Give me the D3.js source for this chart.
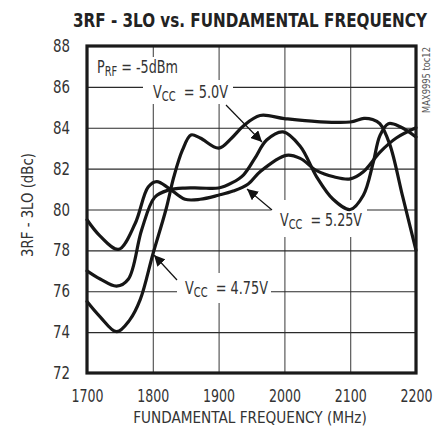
<!DOCTYPE html>
<html>
<head>
<meta charset="utf-8">
<script src="https://cdn.jsdelivr.net/npm/d3@7"></script>
<style>
  html, body { margin: 0; padding: 0; background: #fff; }
  svg { display: block; }
  text { font-family: "Liberation Sans Narrow", "DejaVu Sans Condensed", "Arial Narrow", sans-serif; }
</style>
</head>
<body>
<svg id="chart" width="443" height="434"></svg>
<script>
// ---- data ----
const xTicks = [1700, 1800, 1900, 2000, 2100, 2200];
const yTicks = [72, 74, 76, 78, 80, 82, 84, 86, 88];

// VCC = 5.25V (starts highest at 1700)
const freq525 = [1700, 1720, 1748, 1773, 1793, 1806, 1824, 1849, 1872, 1900, 1922, 1945, 1963, 2003, 2024, 2049, 2075, 2100, 2120, 2145, 2170, 2200];
const val525  = [79.5, 78.7, 78.05, 79.3, 81.1, 81.36, 81.05, 80.5, 80.5, 80.7, 80.9, 81.25, 81.85, 82.65, 82.5, 81.9, 81.6, 81.5, 81.85, 82.8, 83.5, 84.0];

// VCC = 5.0V
const freq50 = [1700, 1720, 1745, 1763, 1783, 1803, 1824, 1849, 1872, 1900, 1920, 1938, 1955, 1973, 1998, 2024, 2049, 2074, 2100, 2120, 2135, 2145, 2158, 2176, 2200];
const val50  = [77.0, 76.6, 76.25, 76.6, 79.0, 80.6, 80.95, 81.05, 81.05, 81.05, 81.3, 81.7, 82.5, 83.4, 83.8, 83.1, 81.6, 80.5, 80.0, 80.7, 82.3, 83.6, 84.2, 84.05, 83.55];

// VCC = 4.75V
const freq475 = [1700, 1720, 1745, 1765, 1781, 1800, 1820, 1832, 1845, 1858, 1872, 1900, 1920, 1938, 1963, 2000, 2050, 2100, 2121, 2134, 2145, 2160, 2180, 2200];
const val475  = [75.5, 74.75, 74.02, 74.6, 75.6, 77.8, 80.0, 81.6, 82.9, 83.65, 83.5, 83.0, 83.5, 84.1, 84.6, 84.45, 84.3, 84.28, 84.46, 84.4, 84.2, 83.2, 80.6, 78.0];

const seriesNames = ["VCC = 5.25V", "VCC = 5.0V", "VCC = 4.75V"];

// ---- layout ----
const L = 87, R = 416, T = 46, B = 373;
const svg = d3.select("#chart");
const x = d3.scaleLinear().domain([1700, 2200]).range([L, R]);
const y = d3.scaleLinear().domain([72, 88]).range([B, T]);

// gridlines + tick labels via axes
const gx = svg.append("g").attr("transform", `translate(0,${B})`)
  .call(d3.axisBottom(x).tickValues(xTicks).tickSize(-(B - T)).tickPadding(17).tickFormat(d3.format("d")));
const gy = svg.append("g").attr("transform", `translate(${L},0)`)
  .call(d3.axisLeft(y).tickValues(yTicks).tickSize(-(R - L)).tickPadding(17).tickFormat(d3.format("d")));
[gx, gy].forEach(g => {
  g.select(".domain").remove();
  g.selectAll(".tick text").attr("fill", "#333").attr("font-size", 17.5).attr("lengthAdjust", "spacingAndGlyphs");
});
gx.selectAll(".tick line").attr("stroke", "#4a4a4a").attr("stroke-width", 1.1);
gy.selectAll(".tick line").attr("stroke", "#2a2a2a").attr("stroke-width", 1.1);
gx.selectAll(".tick text").attr("textLength", 32);
gy.selectAll(".tick text").attr("textLength", 17);

// label backgrounds (mask gridlines)
const boxes = [
  [92, 57, 91, 23],   // PRF
  [143, 80, 90, 24],  // 5.0V
  [271, 200, 96, 37], // 5.25V
  [177, 273, 94, 30]  // 4.75V
];
svg.append("g").selectAll("rect").data(boxes).join("rect")
  .attr("x", d => d[0]).attr("y", d => d[1]).attr("width", d => d[2]).attr("height", d => d[3])
  .attr("fill", "#fff");

// curves
const line = d3.line().x(d => x(d[0])).y(d => y(d[1])).curve(d3.curveCatmullRom.alpha(0.5));
const series = [
  d3.zip(freq525, val525),
  d3.zip(freq50, val50),
  d3.zip(freq475, val475)
];
svg.append("g").selectAll("path").data(series).join("path")
  .attr("d", line).attr("fill", "none").attr("stroke", "#161616")
  .attr("stroke-width", 3.2).attr("stroke-linejoin", "round").attr("stroke-linecap", "round");

// frame
svg.append("rect").attr("x", L).attr("y", T).attr("width", R - L).attr("height", B - T)
  .attr("fill", "none").attr("stroke", "#1a1a1a").attr("stroke-width", 3.2);

// arrows
const defs = svg.append("defs");
defs.append("marker").attr("id", "ah").attr("viewBox", "0 0 10 10").attr("refX", 10).attr("refY", 5)
  .attr("markerWidth", 11).attr("markerHeight", 11).attr("markerUnits", "userSpaceOnUse").attr("orient", "auto")
  .append("path").attr("d", "M0,0 L10,5 L0,10 Z").attr("fill", "#111");
const arrows = [
  [226, 105, 262, 142],
  [272, 210, 247, 189],
  [177, 280, 154, 255]
];
svg.append("g").selectAll("line").data(arrows).join("line")
  .attr("x1", d => d[0]).attr("y1", d => d[1]).attr("x2", d => d[2]).attr("y2", d => d[3])
  .attr("stroke", "#111").attr("stroke-width", 1.2).attr("marker-end", "url(#ah)");

// fit a text horizontally to a target width using a scale transform
function fit(t, xp, yp, target, rot) {
  const w = t.node().getComputedTextLength();
  const s = target / w;
  t.attr("transform", `translate(${xp},${yp})${rot ? " rotate(-90)" : ""} scale(${s},1)`);
}

// labels
function subLabel(xp, yp, main, sub, rest, len) {
  const t = svg.append("text").attr("x", 0).attr("y", 0).attr("font-size", 17.5).attr("fill", "#333");
  t.append("tspan").text(main);
  t.append("tspan").attr("dy", 3).attr("font-size", 13.5).text(sub);
  t.append("tspan").attr("dy", -3).text(rest);
  fit(t, xp, yp, len);
}
subLabel(153, 98, "V", "CC", "\u00A0 = 5.0V", 75);
subLabel(280, 226, "V", "CC", "\u00A0 = 5.25V", 82);
subLabel(185, 294, "V", "CC", "\u00A0 = 4.75V", 83);
subLabel(97, 73, "P", "RF", " = -5dBm", 81);

// title
const title = svg.append("text").attr("text-anchor", "middle")
  .attr("font-size", 20).attr("font-weight", "bold").attr("fill", "#222")
  .text("3RF - 3LO vs. FUNDAMENTAL FREQUENCY");
fit(title, 250, 27, 354);

// axis titles
const xt = svg.append("text").attr("text-anchor", "middle")
  .attr("font-size", 16.5).attr("fill", "#333")
  .text("FUNDAMENTAL FREQUENCY (MHz)");
fit(xt, 250, 423, 234);
const yt = svg.append("text").attr("text-anchor", "middle")
  .attr("font-size", 16.5).attr("fill", "#333")
  .text("3RF - 3LO (dBc)");
fit(yt, 33, 205, 104, true);
const tag = svg.append("text").attr("text-anchor", "middle")
  .attr("font-size", 10).attr("fill", "#555")
  .text("MAX9995 toc12");
fit(tag, 430, 80, 66, true);
</script>
</body>
</html>
